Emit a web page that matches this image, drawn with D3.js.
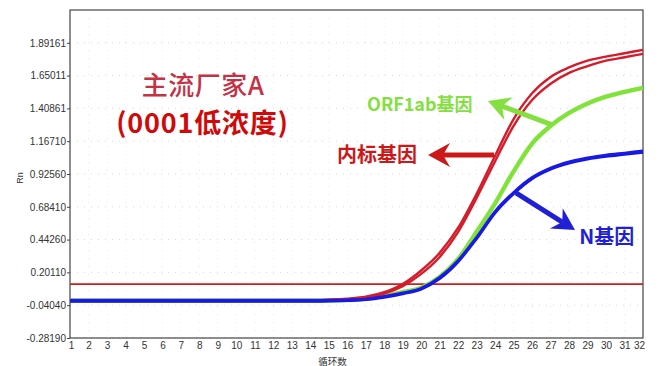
<!DOCTYPE html>
<html><head><meta charset="utf-8">
<script src="https://cdn.jsdelivr.net/npm/d3@7"></script>
<style>
html,body{margin:0;padding:0;background:#fff;}
svg{display:block;}
</style></head>
<body><div id="chart"></div>
<script>
// ---- data ----
const cycles = d3.range(1, 33);
const yTickLabels = ["-0.28190","-0.04040","0.20110","0.44260","0.68410","0.92560","1.16710","1.40861","1.65011","1.89161"];
const base14 = [-0.005,-0.005,-0.005,-0.005,-0.005,-0.005,-0.005,-0.005,-0.005,-0.005,-0.005,-0.005,-0.005,-0.005];
const base14g = [-0.008,-0.008,-0.008,-0.008,-0.008,-0.008,-0.008,-0.008,-0.008,-0.008,-0.008,-0.008,-0.008,-0.008];
const base14a = [-0.004,-0.004,-0.004,-0.004,-0.004,-0.004,-0.004,-0.004,-0.004,-0.004,-0.004,-0.004,-0.004,-0.004];
const base14b = [-0.012,-0.012,-0.012,-0.012,-0.012,-0.012,-0.012,-0.012,-0.012,-0.012,-0.012,-0.012,-0.012,-0.012];
const internalA = base14.concat([0.0,0.008,0.022,0.055,0.115,0.215,0.345,0.53,0.78,1.06,1.33,1.52,1.64,1.71,1.76,1.79,1.815,1.84]);
const internalB = base14.concat([-0.002,0.004,0.015,0.045,0.10,0.19,0.315,0.50,0.75,1.02,1.28,1.47,1.59,1.67,1.72,1.76,1.785,1.81]);
const orf1ab    = base14g.concat([-0.007,-0.003,0.007,0.028,0.055,0.088,0.168,0.30,0.50,0.71,0.945,1.15,1.28,1.375,1.445,1.495,1.53,1.56]);
const nGeneA    = base14a.concat([-0.004,-0.001,0.005,0.025,0.05,0.085,0.165,0.29,0.46,0.65,0.79,0.9,0.97,1.015,1.045,1.065,1.08,1.095]);
const nGeneB    = base14b.concat([-0.011,-0.007,0.0,0.018,0.043,0.078,0.155,0.28,0.45,0.64,0.78,0.89,0.96,1.005,1.035,1.055,1.07,1.085]);
const threshold = 0.115;
const yMin = -0.28190, yMax = 2.13311;

// annotations (in data units)
const titleLines = [
  {text:"主流厂家A", cx:8.2, cy:1.507},
  {text:"(0001低浓度)", cx:8.17, cy:1.228}
];
const labels = [
  {text:"ORF1ab基因", cx:17.07, cy:1.39, color:"#84e040", size:18},
  {text:"内标基因", cx:15.44, cy:1.014, color:"#cc1818", size:20},
  {text:"N基因", cx:28.55, cy:0.41, color:"#1f1fd6", size:20}
];
const arrows = [
  {from:[27.13,1.286], to:[23.61,1.463], color:"#84e040"},
  {from:[23.94,1.066], to:[20.37,1.066], color:"#cc1818"},
  {from:[25.13,0.786], to:[28.32,0.513], color:"#1f1fd6"}
];

// ---- layout ----
const W = 665, H = 366;
const L = 70, R = 643, T = 10, B = 338;
const svg = d3.select("#chart").append("svg").attr("width", W).attr("height", H);
const x = d3.scaleLinear().domain([1, 32]).range([L, R]);
const y = d3.scaleLinear().domain([yMin, yMax]).range([B, T]);

// grid
const g = svg.append("g");
g.selectAll(".hg").data(yTickLabels).join("line")
  .attr("x1", L).attr("x2", R)
  .attr("y1", d => y(+d)).attr("y2", d => y(+d))
  .attr("stroke", "#d8d8d8").attr("stroke-width", 1).attr("stroke-dasharray", "1,6");
g.selectAll(".vg").data(cycles.slice(1, -1)).join("line")
  .attr("y1", T).attr("y2", B)
  .attr("x1", d => x(d)).attr("x2", d => x(d))
  .attr("stroke", "#e6e6e6").attr("stroke-width", 1).attr("stroke-dasharray", "1,7");

// frame
svg.append("rect").attr("x", L).attr("y", T).attr("width", R - L).attr("height", B - T)
  .attr("fill", "none").attr("stroke", "#444").attr("stroke-width", 1.2);

// axes
const yAxis = d3.axisLeft(y).tickValues(yTickLabels.map(Number))
  .tickFormat((d, i) => yTickLabels[i]).tickSize(3).tickPadding(1);
const ya = svg.append("g").attr("transform", `translate(${L},0)`).call(yAxis);
ya.select(".domain").remove();
ya.selectAll("line").attr("stroke", "#444");
ya.selectAll("text").attr("font-family", "Liberation Sans, Arial, sans-serif").attr("font-size", 10).attr("fill", "#333");

const xAxis = d3.axisBottom(x).tickValues(cycles).tickFormat(d3.format("d")).tickSize(0).tickPadding(4);
const xa = svg.append("g").attr("transform", `translate(0,${B})`).call(xAxis);
xa.select(".domain").remove();
xa.selectAll("text").attr("font-family", "Liberation Sans, Arial, sans-serif").attr("font-size", 10).attr("fill", "#333")
  .attr("dx", d => d === 32 ? -4 : (d === 1 ? 1 : 0));

svg.append("text").attr("x", (L + R) / 2 - 24).attr("y", 364.5).attr("text-anchor", "middle")
  .attr("font-family", "Noto Sans CJK SC, sans-serif").attr("font-size", 9.5).attr("fill", "#333").text("循环数");
svg.append("text").attr("transform", `translate(23,${(T + B) / 2 + 4}) rotate(-90)`).attr("text-anchor", "middle")
  .attr("font-family", "Liberation Sans, Arial, sans-serif").attr("font-size", 9).attr("fill", "#333").text("Rn");

// threshold
svg.append("line").attr("x1", L).attr("x2", R).attr("y1", y(threshold)).attr("y2", y(threshold))
  .attr("stroke", "#c8201e").attr("stroke-width", 1.6);

// curves
const line = d3.line().x((d, i) => x(cycles[i])).y(d => y(d)).curve(d3.curveMonotoneX);
const plot = svg.append("g");
plot.append("path").datum(orf1ab).attr("d", line).attr("fill", "none").attr("stroke", "#7fe33a").attr("stroke-width", 4.4);
plot.append("path").datum(internalA).attr("d", line).attr("fill", "none").attr("stroke", "#d41c2a").attr("stroke-width", 2.4);
plot.append("path").datum(internalB).attr("d", line).attr("fill", "none").attr("stroke", "#d41c2a").attr("stroke-width", 2.4);
plot.append("path").datum(nGeneB).attr("d", line).attr("fill", "none").attr("stroke", "#1515e0").attr("stroke-width", 2.8);
plot.append("path").datum(nGeneA).attr("d", line).attr("fill", "none").attr("stroke", "#1a1ae6").attr("stroke-width", 2.8);

// arrows
arrows.forEach(a => {
  const x0 = x(a.from[0]), y0 = y(a.from[1]), x1 = x(a.to[0]), y1 = y(a.to[1]);
  const ang = Math.atan2(y1 - y0, x1 - x0);
  const hl = 22, hw = 12, notch = 7;
  const ca = Math.cos(ang), sa = Math.sin(ang);
  const bx = x1 - hl * ca, by = y1 - hl * sa;
  const nx = x1 - (hl - notch) * ca, ny = y1 - (hl - notch) * sa;
  svg.append("line").attr("x1", x0).attr("y1", y0).attr("x2", nx).attr("y2", ny)
    .attr("stroke", a.color).attr("stroke-width", 5);
  const pts = [[x1, y1], [bx - hw * sa, by + hw * ca], [nx, ny], [bx + hw * sa, by - hw * ca]];
  svg.append("path").attr("d", "M" + pts.map(p => p.join(",")).join("L") + "Z").attr("fill", a.color);
});

// labels
labels.forEach(l => {
  svg.append("text").attr("x", x(l.cx)).attr("y", y(l.cy)).attr("font-family", "Noto Sans CJK SC, sans-serif")
    .attr("font-weight", "bold").attr("font-size", l.size).attr("fill", l.color).text(l.text);
});
svg.append("text").attr("x", x(titleLines[0].cx)).attr("y", y(titleLines[0].cy)).attr("text-anchor", "middle")
  .attr("font-family", "Noto Sans CJK SC, sans-serif").attr("font-weight", 500).attr("font-size", 26)
  .attr("letter-spacing", 0.5).attr("fill", "#c43246").text(titleLines[0].text);
svg.append("text").attr("x", x(titleLines[1].cx)).attr("y", y(titleLines[1].cy)).attr("text-anchor", "middle")
  .attr("font-family", "Noto Sans CJK SC, sans-serif").attr("font-weight", "bold").attr("font-size", 27)
  .attr("letter-spacing", 0.8).attr("fill", "#cf0a0a").text(titleLines[1].text);
</script></body></html>
